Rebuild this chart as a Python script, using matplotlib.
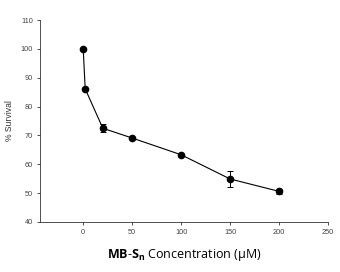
import matplotlib.pyplot as plt

plt.rcParams['font.family'] = ['Liberation Sans', 'DejaVu Sans']
plt.rcParams['mathtext.fontset'] = 'custom'
plt.rcParams['mathtext.rm'] = 'Open Sans'
plt.rcParams['mathtext.bf'] = 'Open Sans:bold'

conc = [0, 2, 20, 50, 100, 150, 200]
survival = [100, 86.2, 72.5, 69.1, 63.3, 54.9, 50.6]
err = [0, 0, 1.3, 0.5, 0.3, 2.7, 1.0]

fig = plt.figure(figsize=(3.4, 2.72), dpi=100)
ax = fig.add_axes([0.118, 0.184, 0.847, 0.742])
ax.errorbar(conc, survival, yerr=err, color='black', lw=0.8, marker='o', ms=4.5,
            capsize=2.5, elinewidth=0.7, capthick=0.7)
ax.set_xlim(-44, 250)
ax.set_ylim(40, 110)
ax.set_xticks([0, 50, 100, 150, 200, 250])
ax.set_yticks(range(40, 111, 10))
ax.tick_params(labelsize=5.3, length=2.5, width=0.6, direction='out', pad=2.5,
               colors='#333333', labelcolor='#444444')
for s in ['top', 'right']:
    ax.spines[s].set_visible(False)
for s in ['left', 'bottom']:
    ax.spines[s].set_linewidth(0.6)
    ax.spines[s].set_color('#333333')
ax.set_ylabel('% Survival', fontsize=6.2, labelpad=5, color='#333333')
ax.set_xlabel(r'$\mathbf{MB\text{-}S_n}$ Concentration (μM)', fontsize=9,
              family=['Open Sans', 'DejaVu Sans'], labelpad=8)
fig.savefig('out.png', dpi=100, facecolor='white')
